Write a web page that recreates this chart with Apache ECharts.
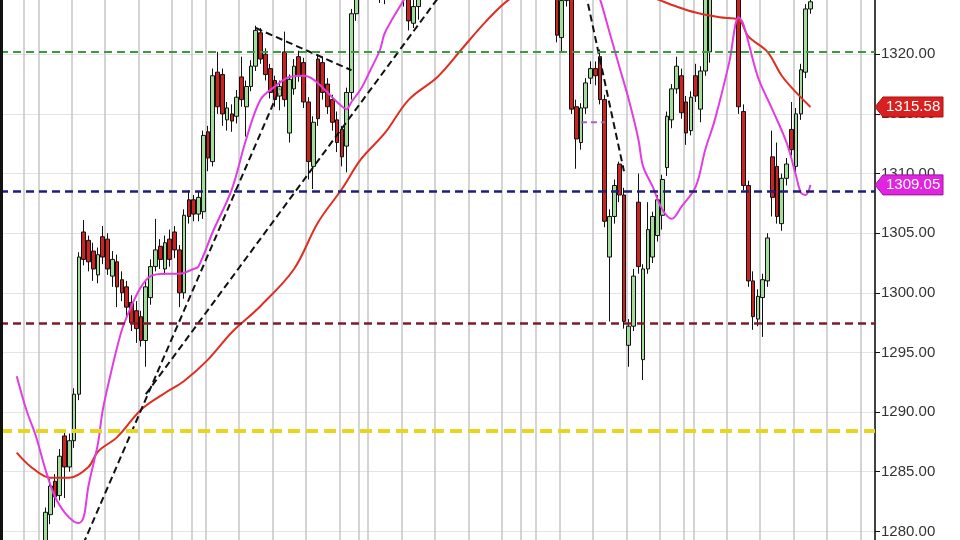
<!DOCTYPE html>
<html>
<head>
<meta charset="utf-8">
<script src="https://cdn.jsdelivr.net/npm/echarts@6/dist/echarts.min.js"></script>
<style>html,body{margin:0;padding:0;background:#fff;overflow:hidden;width:960px;height:540px;}#c{position:absolute;left:0;top:-65px;width:960px;height:656px;}</style>
</head>
<body>
<div id="c"></div>
<script>
// ---- data ----
const N = 183;
const categories = Array.from({length: N}, (_, i) => String(i));
const sepIdx = [5, 8, 15, 22, 29, 36, 40, 43, 50, 57, 64, 71, 75, 77, 84, 91, 98, 105, 109, 112, 117, 124, 131, 138, 143, 145, 152, 159, 166, 173, 180];
// [index, open, close, low, high]
const candles = [
[2,1276.0,1274.5,1273.8,1276.8],[3,1274.5,1273.0,1272.2,1275.2],[4,1273.0,1274.2,1272.5,1274.8],
[5,1274.2,1272.8,1272.0,1274.6],[6,1272.8,1274.6,1272.4,1275.3],[7,1274.6,1276.0,1274.0,1276.6],
[8,1276.0,1277.8,1275.6,1278.4],[9,1277.8,1281.6,1277.2,1282.0],[10,1281.4,1283.8,1280.6,1284.4],
[11,1284.2,1282.9,1282.0,1284.8],[12,1283.0,1286.3,1282.6,1286.9],[13,1288.0,1285.4,1282.8,1288.5],
[14,1285.4,1287.6,1285.0,1288.2],[15,1287.6,1291.5,1287.0,1292.0],[16,1291.5,1303.0,1291.0,1303.4],
[17,1305.1,1302.8,1302.3,1306.1],[18,1304.4,1302.6,1301.8,1304.8],[19,1303.5,1302.0,1301.0,1304.2],
[20,1301.5,1303.2,1300.8,1303.8],[21,1304.7,1303.0,1302.4,1305.6],[22,1304.5,1302.0,1301.5,1305.0],
[23,1301.4,1302.8,1300.5,1303.5],[24,1302.6,1300.5,1298.8,1303.2],[25,1301.1,1300.0,1299.3,1301.8],
[26,1300.5,1298.8,1298.0,1301.0],[27,1299.2,1297.5,1296.8,1299.8],[28,1298.5,1297.0,1295.8,1299.3],
[29,1298.0,1296.0,1295.5,1298.5],[30,1296.0,1300.5,1293.8,1301.0],[31,1299.6,1302.2,1299.0,1302.8],
[32,1302.2,1303.6,1301.8,1306.2],[33,1303.9,1302.8,1302.0,1304.5],[34,1302.0,1304.2,1301.5,1304.8],
[35,1304.5,1302.8,1302.2,1305.3],[36,1305.1,1303.6,1302.9,1305.6],[37,1303.6,1300.0,1298.8,1304.0],
[38,1300.0,1306.5,1299.5,1307.0],[39,1307.8,1306.4,1305.8,1308.6],[40,1307.8,1306.6,1306.0,1308.2],
[41,1306.6,1308.0,1306.0,1308.5],[42,1306.8,1313.2,1306.2,1313.6],[43,1313.5,1311.3,1310.2,1314.0],
[44,1311.0,1318.2,1310.6,1318.8],[45,1318.5,1315.6,1315.0,1320.2],[46,1318.3,1315.0,1314.0,1318.8],
[47,1314.5,1315.5,1313.6,1316.0],[48,1315.0,1314.4,1313.5,1315.8],[49,1314.8,1316.4,1314.2,1317.0],
[50,1318.1,1316.2,1315.6,1319.8],[51,1315.6,1317.3,1313.1,1317.8],[52,1317.3,1319.0,1316.9,1319.5],
[53,1319.0,1322.0,1318.6,1322.4],[54,1321.8,1319.6,1319.2,1322.2],[55,1320.0,1318.3,1317.8,1320.5],
[56,1318.8,1316.8,1316.3,1319.2],[57,1317.8,1316.2,1315.6,1318.2],[58,1316.5,1317.3,1315.3,1317.8],
[59,1320.2,1316.2,1315.6,1321.9],[60,1313.4,1317.9,1312.6,1318.3],[61,1317.1,1319.0,1316.6,1319.6],
[62,1319.8,1318.2,1317.7,1320.3],[63,1319.3,1316.0,1315.5,1319.7],[64,1316.0,1311.0,1309.5,1316.4],
[65,1310.6,1314.3,1308.7,1314.8],[66,1319.6,1314.6,1314.0,1320.0],[67,1319.3,1316.8,1316.2,1319.8],
[68,1317.5,1315.6,1315.0,1318.0],[69,1316.2,1314.3,1313.6,1316.6],[70,1314.5,1312.6,1311.8,1315.2],
[71,1313.7,1311.4,1310.6,1314.0],[72,1312.3,1316.8,1310.1,1317.2],[73,1316.8,1323.4,1316.2,1323.8],
[74,1323.4,1326.4,1322.8,1327.0],[75,1326.4,1328.0,1325.5,1328.5],[76,1328.0,1327.0,1326.0,1329.0],
[77,1327.0,1328.5,1326.2,1329.5],[78,1328.5,1326.5,1325.8,1329.0],[79,1326.5,1325.5,1324.3,1327.0],
[80,1325.5,1327.0,1324.2,1327.5],[81,1327.0,1328.0,1326.5,1329.0],[82,1328.0,1326.8,1326.0,1328.6],
[83,1326.8,1325.5,1325.0,1327.5],[84,1325.5,1325.0,1324.0,1326.0],[85,1325.0,1322.8,1322.0,1326.2],
[86,1322.6,1324.0,1322.2,1325.5],[87,1324.0,1325.4,1322.9,1326.0],[88,1325.4,1327.5,1325.0,1328.0],
[89,1327.5,1329.0,1327.0,1329.8],[90,1329.0,1330.5,1328.5,1331.0],[91,1330.5,1329.6,1329.0,1331.2],
[92,1329.6,1331.2,1329.2,1331.8],[93,1331.2,1332.5,1330.8,1333.0],[94,1332.5,1331.4,1330.9,1333.1],
[95,1331.4,1332.8,1331.0,1333.5],[96,1332.8,1334.0,1332.2,1334.6],[97,1334.0,1333.1,1332.5,1334.8],
[98,1333.1,1334.5,1332.8,1335.2],[99,1334.5,1335.4,1334.0,1336.0],[100,1335.4,1334.2,1333.6,1335.8],
[101,1334.2,1333.0,1332.5,1334.6],[102,1333.0,1334.1,1332.6,1334.7],[103,1334.1,1333.3,1332.8,1334.5],
[104,1333.3,1332.0,1331.5,1333.8],[105,1332.0,1332.9,1331.4,1333.4],[106,1332.9,1331.6,1331.0,1333.2],
[107,1331.6,1330.2,1329.6,1332.0],[108,1330.2,1331.0,1329.8,1331.5],[109,1331.0,1329.5,1329.0,1331.3],
[110,1329.5,1328.2,1327.6,1330.0],[111,1328.2,1329.0,1327.8,1329.5],[112,1329.0,1327.6,1327.0,1329.4],
[113,1327.6,1326.2,1325.6,1328.0],[114,1326.2,1327.0,1325.8,1327.6],[115,1327.0,1325.8,1325.0,1327.4],
[116,1325.8,1321.6,1321.0,1326.2],[117,1321.4,1324.5,1320.2,1325.2],[118,1324.5,1326.0,1324.0,1326.5],
[119,1326.0,1315.4,1315.0,1326.5],[120,1315.6,1312.9,1310.4,1316.2],[121,1312.6,1315.5,1312.0,1315.9],
[122,1315.5,1317.6,1315.0,1318.0],[123,1318.0,1318.8,1317.5,1319.4],[124,1318.8,1318.2,1317.4,1319.4],
[125,1319.8,1316.2,1315.8,1320.4],[126,1316.2,1306.0,1305.5,1316.6],[127,1303.0,1306.4,1297.6,1307.0],
[128,1306.4,1309.0,1305.8,1309.5],[129,1310.8,1308.2,1307.6,1311.0],[130,1308.2,1297.6,1297.0,1308.8],
[131,1295.6,1297.2,1293.8,1297.8],[132,1297.2,1301.4,1296.8,1302.0],[133,1307.6,1302.2,1301.6,1310.0],
[134,1294.4,1302.0,1292.7,1302.4],[135,1302.0,1305.3,1301.6,1307.6],[136,1303.0,1306.4,1302.5,1306.8],
[137,1304.8,1307.8,1304.3,1308.2],[138,1306.5,1309.5,1305.3,1309.9],[139,1310.5,1314.8,1309.8,1315.2],
[140,1314.5,1317.1,1313.8,1317.5],[141,1317.1,1319.0,1316.7,1319.8],[142,1318.2,1315.1,1314.6,1318.8],
[143,1316.0,1313.4,1312.4,1316.5],[144,1313.6,1316.4,1313.2,1316.9],[145,1318.2,1316.5,1316.0,1319.2],
[146,1315.4,1318.6,1314.3,1319.0],[147,1318.6,1324.8,1318.2,1325.5],[148,1320.2,1326.0,1319.3,1326.5],
[149,1326.0,1327.5,1325.5,1328.0],[150,1327.5,1328.6,1327.0,1329.2],[151,1328.6,1327.8,1327.2,1329.4],
[152,1327.8,1328.9,1327.4,1329.6],[153,1328.9,1327.0,1326.5,1329.3],[154,1327.0,1315.6,1315.0,1327.5],
[155,1315.2,1309.0,1308.6,1315.8],[156,1309.0,1301.0,1300.5,1309.4],[157,1301.0,1298.0,1296.9,1301.8],
[158,1297.8,1299.7,1297.2,1300.3],[159,1299.6,1301.1,1296.3,1301.6],[160,1301.0,1304.6,1300.5,1305.0],
[161,1311.4,1308.0,1306.4,1313.6],[162,1310.6,1306.4,1305.8,1312.6],[163,1305.8,1309.6,1305.2,1310.0],
[164,1309.6,1310.8,1309.0,1311.3],[165,1313.7,1312.0,1311.5,1316.0],[166,1310.6,1315.0,1309.8,1315.5],
[167,1315.0,1318.7,1314.5,1319.2],[168,1318.5,1323.8,1318.0,1324.2],[169,1323.8,1324.4,1323.4,1325.0]
];
// moving averages: [index, value]
const maFast = [
[3,1293.0],[5,1290.2],[7,1288.0],[9,1285.2],[11,1282.9],[13,1281.6],[15,1280.8],[16,1280.7],[17,1281.2],
[18,1283.8],[20,1287.4],[21,1290.2],[23,1293.8],[25,1296.9],[27,1298.9],[29,1300.5],[31,1301.4],[34,1301.6],
[37,1301.6],[40,1302.0],[41,1302.2],[44,1305.1],[48,1308.7],[51,1312.9],[54,1316.2],[57,1317.3],[60,1318.1],
[63,1318.2],[65,1317.9],[68,1316.8],[70,1316.0],[72,1315.4],[73,1316.0],[75,1317.1],[77,1318.7],[79,1320.4],
[80,1321.8],[84,1324.6],[88,1327.3],[94,1330.2],[100,1331.5],[106,1331.6],[112,1330.8],[118,1329.4],
[122,1327.9],[125,1324.6],[127,1321.8],[129,1319.0],[131,1316.2],[133,1312.9],[134,1310.6],[136,1308.9],
[138,1307.0],[140,1306.2],[142,1307.2],[145,1308.9],[147,1312.0],[149,1314.5],[152,1319.3],[154,1323.1],
[155,1322.5],[158,1318.1],[161,1315.4],[164,1312.6],[166,1309.8],[167,1308.4],[168,1308.2],[169,1309.05]
];
const maSlow = [
[3,1286.6],[6,1285.4],[10,1284.5],[14,1284.5],[18,1285.4],[20,1286.7],[24,1287.9],[29,1290.2],[34,1291.6],
[38,1292.6],[43,1294.4],[48,1296.7],[54,1298.9],[61,1302.0],[66,1305.9],[71,1308.7],[75,1311.2],[80,1313.4],
[85,1316.2],[91,1318.1],[96,1320.4],[101,1322.7],[106,1324.6],[112,1325.9],[118,1326.5],[124,1326.3],
[130,1325.6],[137,1324.6],[141,1324.0],[145,1323.5],[150,1323.1],[154,1322.9],[156,1321.5],[160,1320.2],
[163,1318.2],[166,1316.8],[169,1315.58]
];
const levels = [
  {value: 1320.25, color: '#3f9a3f', width: 2, dash: [8, 5]},
  {value: 1308.55, color: '#1e1e78', width: 2.5, dash: [8, 5]},
  {value: 1297.47, color: '#7c1e2a', width: 2.5, dash: [8, 5]},
  {value: 1288.40, color: '#e6d61e', width: 4, dash: [12, 6]}
];
const trendLines = [
  [[16, 1278.1], [58, 1317.1]],
  [[30, 1291.5], [92, 1325.2]],
  [[53, 1322.2], [73, 1318.66]],
  [[122, 1325.13], [130, 1310.19]]
];
const shortMark = [[121, 1314.3], [126, 1314.3]];

// ---- build ----
const ohlc = categories.map(() => '-');
candles.forEach(c => { ohlc[c[0]] = [c[1], c[2], c[3], c[4]]; });
const sepSet = new Set(sepIdx);

const chart = echarts.init(document.getElementById('c'), null, {renderer: 'canvas'});
const series = [
  {
    type: 'line', data: [], z: 1, silent: true,
    markLine: {
      silent: true, symbol: 'none', animation: false,
      label: {show: false},
      data: levels.map(l => ({yAxis: l.value, lineStyle: {color: l.color, width: l.width, type: l.dash}}))
    }
  },
  {
    type: 'candlestick', data: ohlc, z: 2, barWidth: '88%',
    itemStyle: {color: '#a3dc9c', color0: '#cc2222', borderColor: '#111', borderColor0: '#111', borderWidth: 1}
  },
  {type: 'line', data: maSlow, z: 3, smooth: 0.35, symbol: 'none', lineStyle: {color: '#dd2e22', width: 2}},
  {type: 'line', data: maFast, z: 3, smooth: 0.35, symbol: 'none', lineStyle: {color: '#e03ee0', width: 2}},
  {type: 'line', data: shortMark, z: 3, symbol: 'none', lineStyle: {color: '#a064c4', width: 2, type: [6, 4]}}
];
trendLines.forEach(t => series.push({type: 'line', data: t, z: 4, symbol: 'none', lineStyle: {color: '#111', width: 2, type: [7, 4]}}));

chart.setOption({
  animation: false,
  backgroundColor: '#ffffff',
  grid: {left: 0, right: 85, top: 0, bottom: 0, containLabel: false, outerBoundsMode: 'none'},
  xAxis: {
    type: 'category', data: categories, boundaryGap: true,
    axisLine: {show: false}, axisTick: {show: false}, axisLabel: {show: false},
    splitLine: {show: true, interval: (idx) => sepSet.has(idx), lineStyle: {color: '#c6c6c6', width: 1.5}}
  },
  yAxis: {
    type: 'value', position: 'right', min: 1275, max: 1330, interval: 5, scale: true,
    axisLine: {show: true, lineStyle: {color: '#111', width: 1.5}},
    axisTick: {show: true, length: 5, lineStyle: {color: '#111'}},
    axisLabel: {formatter: v => v.toFixed(2), color: '#333', fontSize: 15, fontFamily: 'Liberation Sans, Arial, sans-serif', margin: 6},
    splitLine: {show: true, lineStyle: {color: '#e4e4e4', width: 1}}
  },
  series: series
});

function badge(value, color, stroke) {
  const y = chart.convertToPixel({yAxisIndex: 0}, value);
  return {
    type: 'group', z: 100, children: [
      {type: 'polygon', z: 100, shape: {points: [[875, y], [883, y - 10], [943, y - 10], [943, y + 10], [883, y + 10]]}, style: {fill: color, stroke: stroke, lineWidth: 1}},
      {type: 'text', z: 101, x: 886, y: y, style: {text: value.toFixed(2), fill: '#fff', font: '15px "Liberation Sans", Arial, sans-serif', verticalAlign: 'middle'}}
    ]
  };
}
const lastSlow = maSlow[maSlow.length - 1][1];
const lastFast = maFast[maFast.length - 1][1];
chart.setOption({
  graphic: [
    {type: 'rect', z: 100, shape: {x: 0, y: 0, width: 3, height: 656}, style: {fill: '#111'}},
    badge(lastSlow, '#d82020', '#b01010'),
    badge(lastFast, '#e024e0', '#a010a0')
  ]
});
</script>
</body>
</html>
